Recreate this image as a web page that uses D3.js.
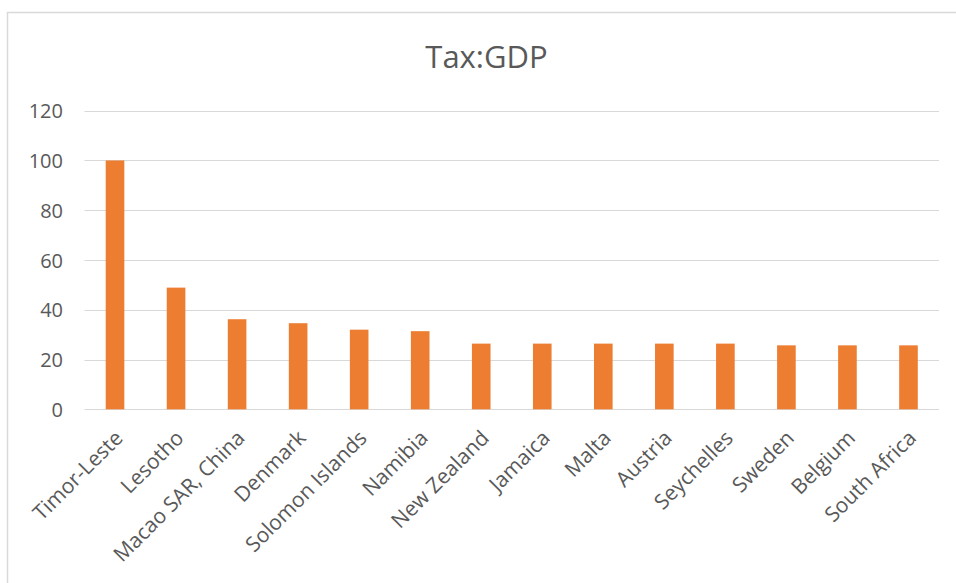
<!DOCTYPE html>
<html>
<head>
<meta charset="utf-8">
<script src="https://cdn.jsdelivr.net/npm/d3@7"></script>
<style>
  html, body { margin: 0; padding: 0; background: #fff; }
  svg { display: block; }
  text { font-family: "Open Sans", "DejaVu Sans", sans-serif; fill: #595959; }
</style>
</head>
<body>
<svg id="chart" width="956" height="583"></svg>
<script>
// Tax revenue as a share of GDP, top countries
const countries = [
  "Timor-Leste", "Lesotho", "Macao SAR, China", "Denmark", "Solomon Islands",
  "Namibia", "New Zealand", "Jamaica", "Malta", "Austria",
  "Seychelles", "Sweden", "Belgium", "South Africa"
];
const taxToGdp = [100, 48.9, 36.2, 34.6, 32.0, 31.4, 26.4, 26.4, 26.4, 26.4, 26.4, 25.7, 25.7, 25.7];
const yTicks = [0, 20, 40, 60, 80, 100, 120];
const chartTitle = "Tax:GDP";

const svg = d3.select("#chart");
const W = 956, H = 583;
const plot = { left: 84.5, right: 939, top: 110.7, bottom: 409.3 };

// chart frame
svg.append("rect")
  .attr("x", 7.5).attr("y", 12.5)
  .attr("width", W + 20).attr("height", H + 20)
  .attr("fill", "#fff")
  .attr("stroke", "#d9d9d9").attr("stroke-width", 1.5);

const x = d3.scaleBand()
  .domain(countries)
  .range([plot.left, plot.right])
  .paddingInner(0.695)
  .paddingOuter(0.3475);

const y = d3.scaleLinear()
  .domain([0, 120])
  .range([plot.bottom, plot.top]);

// title
svg.append("text")
  .attr("x", 486.5).attr("y", 68)
  .attr("text-anchor", "middle")
  .style("font-size", "31px")
  .text(chartTitle);

// horizontal gridlines
svg.append("g")
  .selectAll("line")
  .data(yTicks)
  .join("line")
  .attr("x1", plot.left).attr("x2", plot.right)
  .attr("y1", d => Math.round(y(d)) + 0.5)
  .attr("y2", d => Math.round(y(d)) + 0.5)
  .attr("stroke", "#d9d9d9").attr("stroke-width", 1);

// y axis labels
const yAxis = d3.axisLeft(y).tickValues(yTicks).tickSize(0).tickPadding(0);
const gy = svg.append("g")
  .attr("transform", `translate(63,0)`)
  .call(yAxis);
gy.select(".domain").remove();
gy.selectAll("text")
  .attr("dy", "0.35em")
  .style("font-size", "20px")
  .style("font-family", "\"Open Sans\", sans-serif")
  .attr("fill", "#595959");

// bars
svg.append("g")
  .selectAll("rect")
  .data(countries.map((c, i) => ({ c, v: taxToGdp[i] })))
  .join("rect")
  .attr("x", d => x(d.c))
  .attr("width", x.bandwidth())
  .attr("y", d => y(d.v))
  .attr("height", d => y(0) - y(d.v))
  .attr("fill", "#ed7d31");

// x axis labels, rotated
const xAxis = d3.axisBottom(x).tickSize(0).tickPadding(0);
const gx = svg.append("g")
  .attr("transform", `translate(0,${plot.bottom})`)
  .call(xAxis);
gx.select(".domain").remove();
gx.selectAll(".tick text")
  .attr("text-anchor", "end")
  .attr("dy", null)
  .attr("y", 0)
  .attr("transform", "translate(9,30) rotate(-45)")
  .style("font-size", "21px")
  .style("font-family", "\"Open Sans\", sans-serif")
  .attr("fill", "#595959");
</script>
</body>
</html>
